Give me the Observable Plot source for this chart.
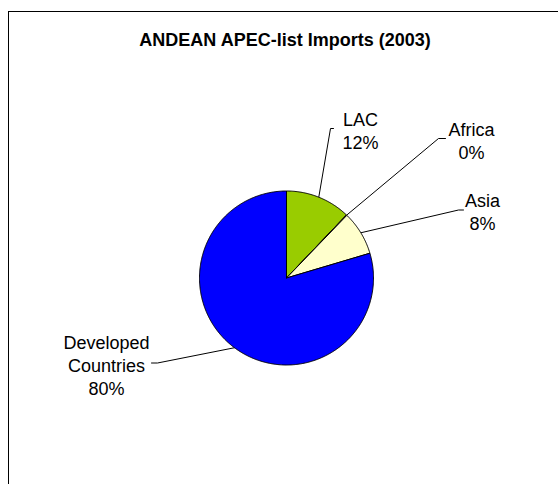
<!DOCTYPE html>
<html>
<head>
<meta charset="utf-8">
<script src="https://cdn.jsdelivr.net/npm/d3@7"></script>
<script src="https://cdn.jsdelivr.net/npm/@observablehq/plot@0.6"></script>
<style>
  html, body { margin: 0; padding: 0; background: #fff; overflow: hidden; }
  body { width: 558px; height: 484px; position: relative; font-family: "Liberation Sans", Arial, sans-serif; }
  #frame { position: absolute; left: 8px; top: 11px; width: 600px; height: 600px; border: 1px solid #000; box-sizing: border-box; }
  #title { position: absolute; left: 9px; width: 552px; top: 29px; line-height: 22px; text-align: center; font-weight: bold; font-size: 18px; color: #000; }
  #chart { position: absolute; left: 0; top: 0; }
</style>
</head>
<body>
<div id="frame"></div>
<div id="title">ANDEAN APEC-list Imports (2003)</div>
<div id="chart"></div>
<script>
// ---- data ----
const categories = ["LAC", "Africa", "Asia", "Developed Countries"];
const shares = [12.1, 0.1, 8.2, 79.6];
const labelNames = ["LAC", "Africa", "Asia", "Developed\nCountries"];
const colors = ["#99CC00", "#800000", "#FFFFCC", "#0000FF"];

// ---- layout ----
const W = 558, H = 484;
const cx = 286, cy = 277.5, R = 87;
const labelLayout = {
  "LAC": { lx: 360, ly: 129.5, path: [[330, 128], [333, 128]] },
  "Africa": { lx: 471, ly: 139.5, path: [[438, 138], [445, 138]] },
  "Asia": { lx: 482, ly: 210.5, path: [[458, 209.5], [463, 209.5]] },
  "Developed Countries": { lx: 106, ly: 364, path: [[157, 362.5], [151, 362.5]] }
};

const rows = categories.map((c, i) => ({ name: c, value: shares[i], label: labelNames[i] + "\n" + Math.round(shares[i]) + "%" }));
const arcs = d3.pie().sort(null).value(d => d.value)(rows);

const pt = (a, r) => [cx + r * Math.sin(a), cy - r * Math.cos(a)];

const slicePts = [];
arcs.forEach(a => {
  const n = Math.max(2, Math.ceil((a.endAngle - a.startAngle) / 0.01));
  slicePts.push({ name: a.data.name, x: cx, y: cy });
  for (let k = 0; k <= n; k++) {
    const t = a.startAngle + (a.endAngle - a.startAngle) * k / n;
    const [x, y] = pt(t, R);
    slicePts.push({ name: a.data.name, x, y });
  }
  slicePts.push({ name: a.data.name, x: cx, y: cy });
});

const leaderPts = [];
const labelPts = [];
arcs.forEach(a => {
  const mid = (a.startAngle + a.endAngle) / 2;
  const [sx, sy] = pt(mid, R);
  const L = labelLayout[a.data.name];
  leaderPts.push({ name: a.data.name, x: sx, y: sy });
  L.path.forEach(([x, y]) => leaderPts.push({ name: a.data.name, x, y }));
  labelPts.push({ name: a.data.name, x: L.lx, y: L.ly, text: a.data.label });
});

const plot = Plot.plot({
  width: W,
  height: H,
  margin: 0,
  style: { background: "transparent", fontFamily: "'Liberation Sans', Arial, sans-serif" },
  x: { domain: [0, W], range: [0, W], axis: null },
  y: { domain: [0, H], range: [0, H], axis: null },
  color: { domain: categories, range: colors },
  marks: [
    Plot.line(leaderPts, { x: "x", y: "y", z: "name", stroke: "#000", strokeWidth: 1, curve: "linear" }),
    Plot.line(slicePts, { x: "x", y: "y", z: "name", fill: "name", stroke: "#000", strokeWidth: 1, strokeLinejoin: "round", curve: "linear" }),
    Plot.text(labelPts, { x: "x", y: "y", text: "text", fontSize: 18, lineHeight: 1.3, fill: "#000", textAnchor: "middle" })
  ]
});
document.getElementById("chart").appendChild(plot);
</script>
</body>
</html>
